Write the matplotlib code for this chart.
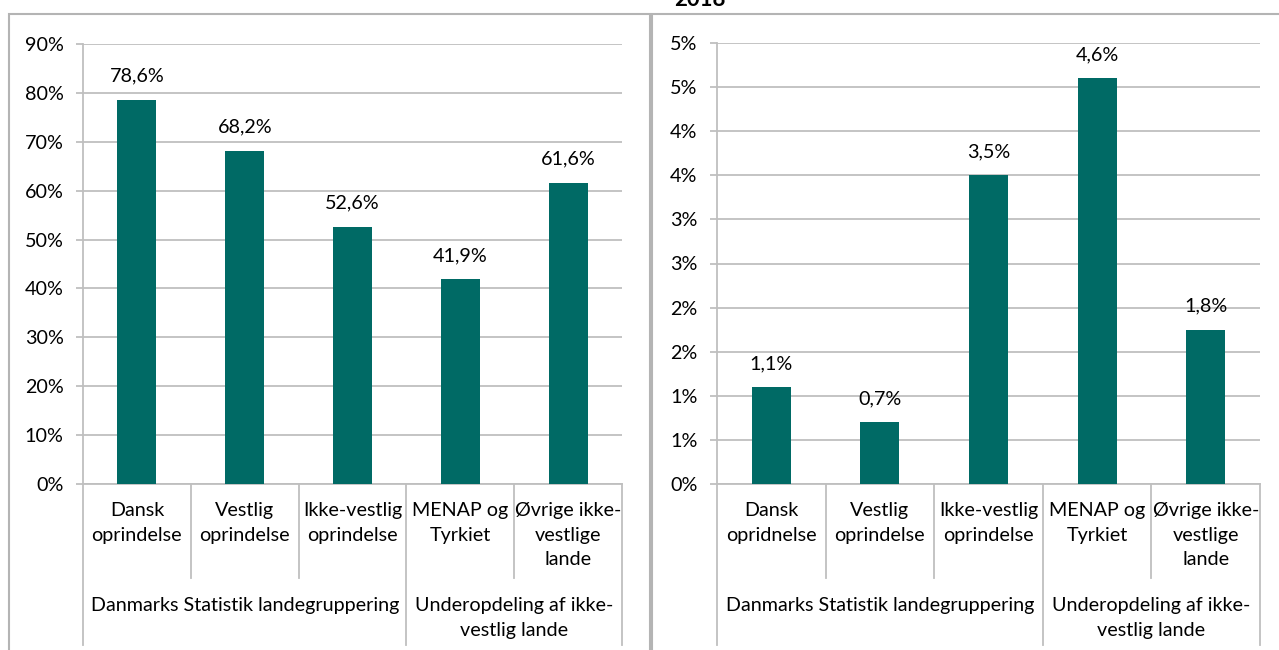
import matplotlib
matplotlib.use("Agg")
import matplotlib.pyplot as plt
import matplotlib.transforms as mtransforms
from matplotlib.lines import Line2D
from matplotlib.patches import Rectangle

plt.rcParams['font.family'] = ['Lato', 'DejaVu Sans']

# data
left_labels = ["Dansk\noprindelse", "Vestlig\noprindelse", "Ikke-vestlig\noprindelse",
               "MENAP og\nTyrkiet", "Øvrige ikke-\nvestlige\nlande"]
left_values = [78.6, 68.2, 52.6, 41.9, 61.6]
left_ticks = [0, 10, 20, 30, 40, 50, 60, 70, 80, 90]
left_ticklabels = ["0%", "10%", "20%", "30%", "40%", "50%", "60%", "70%", "80%", "90%"]

right_labels = ["Dansk\nopridnelse", "Vestlig\noprindelse", "Ikke-vestlig\noprindelse",
                "MENAP og\nTyrkiet", "Øvrige ikke-\nvestlige\nlande"]
right_values = [1.1, 0.7, 3.5, 4.6, 1.75]
right_datalabels = ["1,1%", "0,7%", "3,5%", "4,6%", "1,8%"]
right_ticks = [0, 0.5, 1, 1.5, 2, 2.5, 3, 3.5, 4, 4.5, 5]
right_ticklabels = ["0%", "1%", "1%", "2%", "2%", "3%", "3%", "4%", "4%", "5%", "5%"]

groups = ["Danmarks Statistik landegruppering", "Underopdeling af ikke-\nvestlig lande"]
group_spans = [(-0.5, 2.5), (2.5, 4.5)]

W, H = 1279, 650
BAR = '#006A65'
GRID = '#BFBFBF'
FS = 14.2
LS = 1.55

fig = plt.figure(figsize=(W / 100, H / 100), dpi=100)


def fy(py):
    return (H - py) / H


def draw_panel(rect, labels, values, datalabels, ticks, ticklabels, ymax):
    x0, y0, x1, y1 = rect
    ax = fig.add_axes([x0 / W, fy(y1), (x1 - x0) / W, (y1 - y0) / H])
    xs = range(len(values))
    ax.bar(xs, values, width=0.36, color=BAR, zorder=3)
    ax.set_xlim(-0.5, len(values) - 0.5)
    ax.set_ylim(0, ymax)
    ax.set_yticks(ticks)
    ax.set_yticklabels(ticklabels)
    ax.yaxis.grid(True, color=GRID, linewidth=1.3, zorder=0)
    ax.set_xticks([])
    for s in ['top', 'right']:
        ax.spines[s].set_visible(False)
    ax.spines['left'].set_color(GRID)
    ax.spines['bottom'].set_color(GRID)
    ax.spines['left'].set_linewidth(1.3)
    ax.spines['bottom'].set_linewidth(1.3)
    ax.tick_params(axis='y', length=5, width=1.3, color=GRID, pad=9, labelsize=FS)

    for x, v, t in zip(xs, values, datalabels):
        ax.annotate(t, (x, v), xytext=(0, 13), textcoords='offset points',
                    ha='center', va='baseline', fontsize=FS)

    trans = mtransforms.blended_transform_factory(ax.transData, fig.transFigure)
    # category separators
    for xb in [0.5, 1.5, 3.5]:
        ax.add_line(Line2D([xb, xb], [fy(484), fy(578)], transform=trans,
                           color=GRID, lw=1.3, clip_on=False))
    for xb in [-0.5, 2.5, 4.5]:
        ax.add_line(Line2D([xb, xb], [fy(484), fy(645)], transform=trans,
                           color=GRID, lw=1.3, clip_on=False))
    for x, lab in zip(xs, labels):
        ax.text(x, fy(502), lab, transform=trans, ha='center', va='top',
                fontsize=FS, linespacing=LS)
    for (a, b), g in zip(group_spans, groups):
        ax.text((a + b) / 2, fy(597), g, transform=trans, ha='center', va='top',
                fontsize=FS, linespacing=LS)
    return ax


draw_panel((83, 44, 622, 484), left_labels, left_values,
           [f"{v:.1f}%".replace('.', ',') for v in left_values],
           left_ticks, left_ticklabels, 90)
draw_panel((717, 43, 1260, 484), right_labels, right_values, right_datalabels,
           right_ticks, right_ticklabels, 5)

# panel borders
fig.add_artist(Rectangle((9 / W, fy(660)), (650 - 9) / W, (660 - 14) / H,
                         transform=fig.transFigure, fill=False, edgecolor='#B4B4B4', lw=1.5))
fig.add_artist(Rectangle((652 / W, fy(660)), (1290 - 652) / W, (660 - 14) / H,
                         transform=fig.transFigure, fill=False, edgecolor='#B4B4B4', lw=1.5))

# title, cut off at the top in the reference
fig.text(700 / W, fy(6), "2018", ha='center', va='baseline', fontsize=16, fontweight='bold')

fig.savefig("out.png", dpi=100)
